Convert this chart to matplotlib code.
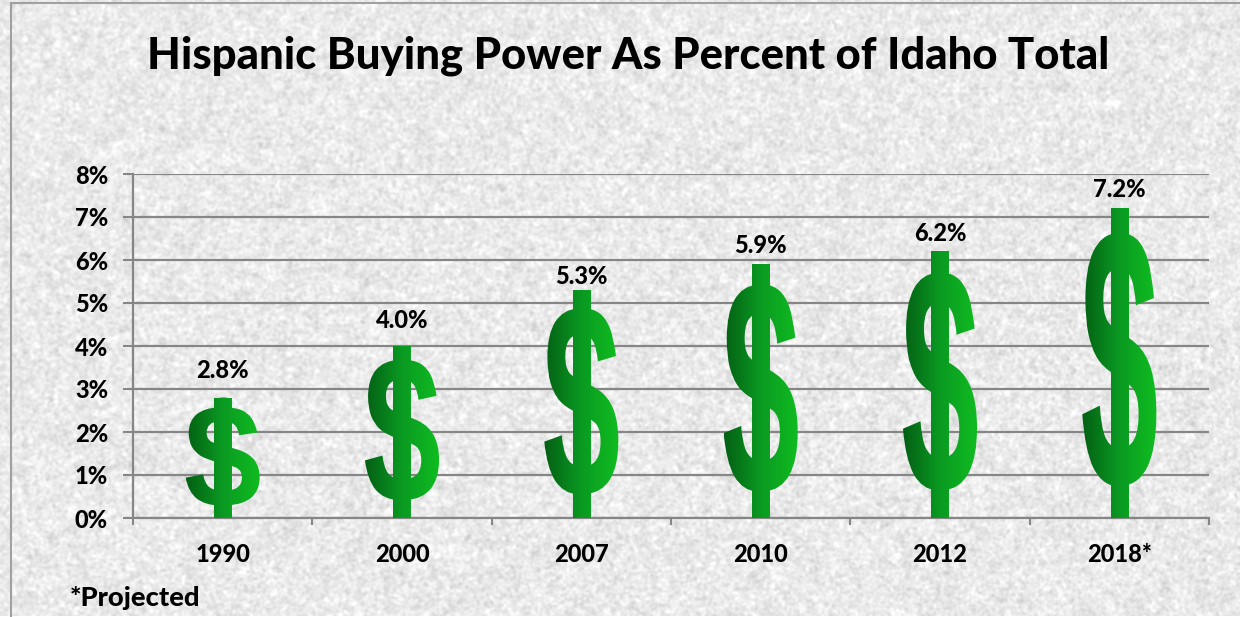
import numpy as np
import matplotlib
matplotlib.use('Agg')
import matplotlib.pyplot as plt
from matplotlib.font_manager import FontProperties
from matplotlib.textpath import TextPath
from matplotlib.transforms import Affine2D
from matplotlib.patches import PathPatch, Rectangle
from matplotlib.colors import LinearSegmentedColormap

years = ['1990', '2000', '2007', '2010', '2012', '2018*']
share = [2.8, 4.0, 5.3, 5.9, 6.2, 7.2]
value_labels = ['2.8%', '4.0%', '5.3%', '5.9%', '6.2%', '7.2%']
y_ticks = [0, 1, 2, 3, 4, 5, 6, 7, 8]

plt.rcParams['font.family'] = ['Lato', 'DejaVu Sans']
heavy = 900

W, H = 1240, 617
fig = plt.figure(figsize=(W / 100, H / 100), dpi=100)


# mottled paper background, only decoration
def blur(a, s):
    fx = np.fft.fftfreq(a.shape[1])[None, :]
    fy = np.fft.fftfreq(a.shape[0])[:, None]
    return np.fft.ifft2(np.fft.fft2(a) * np.exp(-2 * (np.pi * s) ** 2 * (fx ** 2 + fy ** 2))).real


rng = np.random.default_rng(3)
fine = blur(rng.normal(size=(H, W)), 1.2)
coarse = blur(rng.normal(size=(H, W)), 3)
tex = 234 + 7 * fine / fine.std() + 3 * coarse / coarse.std()
bg_ax = fig.add_axes([0, 0, 1, 1], zorder=0)
bg_ax.imshow(np.clip(tex, 195, 255), cmap='gray', vmin=0, vmax=255, aspect='auto')
bg_ax.axis('off')
bg_ax.plot([11, 11], [H, 3], color='#a0a0a0', lw=1.5)
bg_ax.plot([11, W], [3, 3], color='#a0a0a0', lw=1.5)
bg_ax.set_xlim(0, W)
bg_ax.set_ylim(H, 0)

ax = fig.add_axes([133 / W, (H - 518) / H, 1076 / W, 344 / H], zorder=1)
ax.patch.set_alpha(0)

x = np.arange(len(years))
bars = ax.bar(x, share, width=0.413, color='none')

ax.set_xlim(-0.5, 5.5)
ax.set_ylim(0, 8)
ax.set_yticks(y_ticks)
ax.set_yticklabels([f'{v}%' for v in y_ticks], fontsize=17, fontweight=heavy)
ax.set_xticks(x)
ax.set_xticklabels(years, fontsize=17, fontweight=heavy)
ax.set_xticks(np.arange(-0.5, 6), minor=True)
ax.tick_params(axis='x', which='major', length=0, pad=18)
ax.tick_params(axis='x', which='minor', length=5, width=1.5, color='#868686')
ax.tick_params(axis='y', length=7, width=1.5, color='#868686', pad=11)
ax.grid(axis='y', color='#868686', lw=1.6)
ax.set_axisbelow(True)
for s in ['top', 'right']:
    ax.spines[s].set_visible(False)
for s in ['left', 'bottom']:
    ax.spines[s].set_color('#868686')
    ax.spines[s].set_linewidth(1.6)

# dollar glyph stretched over every bar, filled with a green gradient
greens = LinearSegmentedColormap.from_list('dollar', ['#045f14', '#0a9a22', '#10bd20'])
ramp = np.linspace(0, 1, 256)[None, :]
glyph = TextPath((0, 0), '$', size=1, prop=FontProperties(family='Liberation Sans', weight='bold'))
gb = glyph.get_extents()
for b in bars:
    box = [b.get_x(), b.get_x() + b.get_width(), 0, b.get_height()]
    to_bar = (Affine2D().translate(-gb.x0, -gb.y0).scale(1 / gb.width, 1 / gb.height)
              .scale(b.get_width(), b.get_height()).translate(b.get_x(), 0))
    patch = PathPatch(to_bar.transform_path(glyph), fc='none', ec='none', transform=ax.transData)
    ax.add_patch(patch)
    im = ax.imshow(ramp, cmap=greens, aspect='auto', zorder=3, extent=box)
    im.set_clip_path(patch)
    # the stem is wider in the original than in this font
    stem_w = 0.23 * b.get_width()
    stem = Rectangle((b.get_x() + (b.get_width() - stem_w) / 2, 0), stem_w, b.get_height(),
                     fc='none', ec='none', transform=ax.transData)
    ax.add_patch(stem)
    im2 = ax.imshow(ramp, cmap=greens, aspect='auto', zorder=3, extent=box)
    im2.set_clip_path(stem)
ax.set_xlim(-0.5, 5.5)
ax.set_ylim(0, 8)

# label gaps above the glyph differ in the original
gaps = [27, 25, 14, 19, 18, 19]
for xi, v, lab, g in zip(x, share, value_labels, gaps):
    ax.annotate(lab, (xi, v), xytext=(0, g * 0.72), textcoords='offset points',
                ha='center', va='center', fontsize=17, fontweight=heavy, color='black', zorder=4)

fig.text(628 / W, 1 - 56 / H, 'Hispanic Buying Power As Percent of Idaho Total',
         ha='center', va='center', fontsize=31.4, fontweight=heavy, color='black', zorder=5)
fig.text(70 / W, 1 - 598 / H, '*Projected', ha='left', va='center',
         fontsize=19.7, fontweight=heavy, color='black', zorder=5)

fig.savefig('out.png', dpi=100)
